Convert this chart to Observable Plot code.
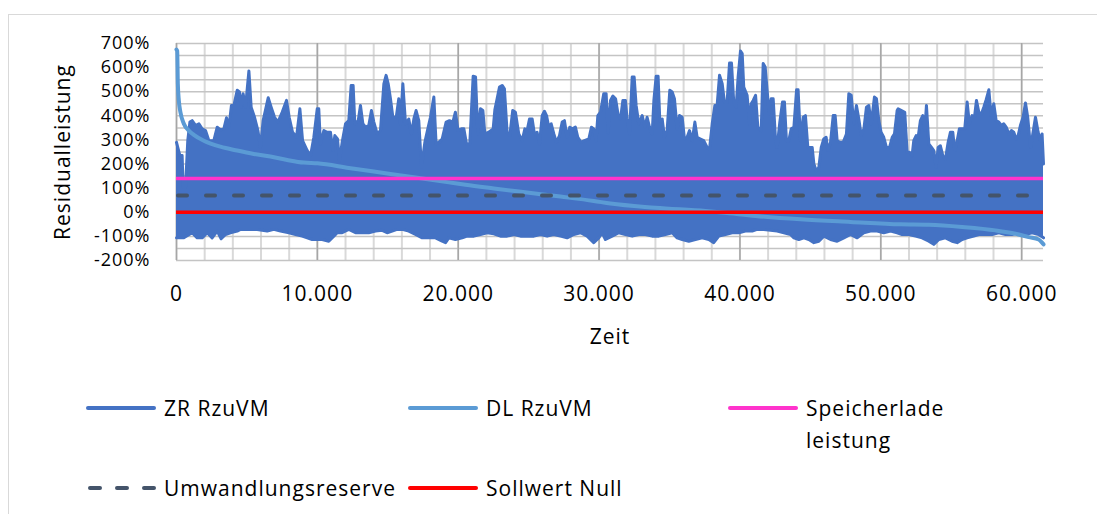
<!DOCTYPE html>
<html><head><meta charset="utf-8">
<script src="https://cdn.jsdelivr.net/npm/d3@7"></script>
<script src="https://cdn.jsdelivr.net/npm/@observablehq/plot@0.6"></script>
<style>
body{margin:0;background:#fff;width:1097px;height:514px;overflow:hidden;position:relative;font-family:"Open Sans",sans-serif;}
#frame{position:absolute;left:8px;top:14px;width:1200px;height:600px;border:1px solid #d9d9d9;box-sizing:border-box;}
#chart{position:absolute;left:0;top:0;}
.lt{position:absolute;font-size:21px;letter-spacing:1px;color:#000;line-height:32px;white-space:nowrap;}
.sw{position:absolute;width:70px;height:8px;overflow:visible;}
</style></head><body>
<div id="frame"></div>
<div id="chart"></div>
<div id="legend"></div>
<script>
// ---- data ----
const xTicks = [0, 10000, 20000, 30000, 40000, 50000, 60000];
const yTicks = [-200, -100, 0, 100, 200, 300, 400, 500, 600, 700];
const xMax = 61550;

// ZR RzuVM: upper envelope (time, %)
const zrHighT = [0,240,400,470,640,800,950,1110,1350,1590,1820,2060,2300,2650,2890,3120,3360,3550,3720,3900,4070,4310,4470,4590,4730,4900,5140,5300,5540,5780,5960,6150,6510,6720,6960,7200,7500,7810,8000,8240,8520,8760,8950,9280,9520,9750,9990,
10100,10220,10460,10700,10930,11100,11240,11430,11570,11760,12000,12230,12400,12540,12660,12900,13060,13230,13420,13650,13840,14010,14250,14480,14720,14880,15030,15190,15360,15600,15780,15900,16070,16260,16490,16680,16850,17010,17200,17390,17630,17870,18030,18270,18430,18620,18860,19140,19380,19620,19800,19990,20230,
20400,20590,20820,21060,21230,21390,21580,21750,21890,22170,22480,22600,22760,22930,23120,23280,23470,23660,23870,24060,24300,24540,24730,24890,25060,25250,25410,25600,25770,25960,26120,26270,26430,26600,26790,26970,27190,27380,27540,27730,27920,28110,28320,28490,28720,28960,29270,29460,29620,29790,29910,30100,30330,30500,
30640,30810,30980,31170,31360,31520,31690,31870,31990,32160,32350,32490,32630,32820,33060,33250,33410,33580,33770,33890,34050,34190,34310,34480,34640,34830,35020,35190,35350,35540,35710,35900,36060,36250,36420,36610,36800,36960,37200,37430,37670,37840,38030,38220,38380,38550,38740,38900,39090,39260,39400,39560,39730,39870,40040,40160,40270,40510,40680,
40800,40940,41110,41270,41510,41650,41790,41930,42070,42220,42360,42530,42640,42830,43020,43160,43300,43470,43640,43830,44020,44130,44300,44490,44650,44820,45010,45130,45250,45410,45600,45770,45950,46120,46240,46430,46620,46760,46900,47090,47330,47560,47730,47900,48080,48270,48440,48610,48800,48980,49150,49320,49550,49690,49860,50020,50210,50400,50620,50810,50970,51160,
51230,51470,51700,51870,52030,52220,52340,52510,52650,52810,52980,53120,53240,53410,53600,53760,53930,54070,54230,54400,54590,54780,54940,55110,55250,55420,55580,55770,55960,56130,56290,56480,56650,56790,56960,57140,57310,57480,57670,57830,58020,58190,58380,58560,58730,58900,59090,59270,59440,59610,59750,59910,60100,60270,60430,60630,60790,60980,61170,61330,61450,61550];
const zrHighV = [290,235,235,103,103,297,374,380,360,367,346,339,297,297,353,342,346,392,353,443,443,506,499,436,492,436,586,436,394,339,269,380,475,436,394,374,415,464,394,332,311,429,297,256,235,311,429,
429,283,339,332,332,256,318,304,214,290,367,380,526,526,367,380,443,367,353,360,422,374,325,339,533,568,533,471,394,394,471,367,533,367,387,325,387,422,380,186,290,353,394,478,283,290,304,374,380,374,415,339,346,
346,283,283,564,561,325,429,422,325,332,346,425,471,519,526,512,332,318,422,415,325,297,346,339,387,387,325,332,283,401,419,401,353,367,325,290,318,374,380,311,353,346,353,311,290,297,304,353,346,297,401,415,492,492,
330,464,482,471,401,387,464,464,387,325,561,561,443,367,401,353,394,353,325,464,564,564,380,387,311,339,506,499,471,346,401,394,304,311,339,297,374,311,304,297,269,262,367,443,443,568,533,457,457,619,619,457,436,561,669,658,519,485,367,
450,464,485,353,339,617,603,506,408,471,471,297,269,374,457,457,297,297,346,353,508,508,297,394,401,269,269,269,200,172,186,269,304,311,256,290,401,401,297,290,290,325,492,485,367,443,387,318,346,436,443,367,478,471,380,332,311,269,269,311,325,422,
429,422,415,249,249,235,297,318,311,380,401,339,443,283,269,256,186,269,276,235,221,290,332,332,256,297,346,346,346,457,367,401,394,464,415,408,436,467,508,401,450,380,374,360,367,353,325,339,332,304,318,360,394,453,394,269,325,394,332,297,325,200];

// ZR RzuVM: lower envelope (time, %)
const zrLowT = [0,520,1110,1470,1820,2180,2530,2890,3170,3480,3830,4310,4540,5020,5730,6440,6910,7380,7980,8450,8920,9280,9630,9990,10340,10810,11170,11410,11760,12230,12710,13180,13650,14130,14600,14950,15310,15660,16020,16490,16970,17440,17910,18390,18860,19100,19330,19800,20280,20630,21110,21580,22050,22530,23000,23470,23950,24420,24890,25370,25840,26310,26780,27260,27730,28200,28680,29150,29620,29980,30220,30450,30930,31400,31870,32350,32820,33290,33770,34240,34710,35190,35540,35900,36370,36840,37320,37790,38140,38500,38970,39450,39920,40390,40870,41220,41700,42170,42640,43120,43590,43830,44180,44540,44890,45250,45600,45960,46430,46900,47380,47850,48320,48790,49270,49740,50210,50690,51160,51510,51990,52460,52930,53410,53760,54120,54590,55060,55420,55770,56130,56600,56960,57430,57900,58370,58850,59320,59790,60270,60740,61210,61550];
const zrLowV = [-106,-106,-85,-106,-106,-85,-106,-78,-110,-92,-85,-78,-71,-71,-71,-78,-71,-78,-85,-92,-99,-106,-113,-113,-113,-120,-99,-85,-85,-71,-85,-85,-85,-78,-75,-85,-78,-71,-71,-78,-92,-106,-106,-106,-120,-126,-106,-113,-106,-99,-99,-92,-85,-89,-99,-99,-92,-99,-99,-99,-92,-99,-92,-99,-106,-92,-85,-99,-126,-106,-85,-113,-99,-85,-92,-99,-92,-92,-99,-99,-92,-85,-106,-113,-120,-113,-106,-113,-126,-99,-92,-85,-85,-78,-78,-71,-71,-75,-78,-85,-92,-106,-113,-106,-113,-126,-120,-99,-113,-120,-106,-92,-106,-85,-78,-78,-85,-78,-85,-92,-92,-99,-106,-120,-133,-113,-106,-120,-126,-113,-106,-99,-92,-92,-92,-85,-92,-92,-85,-92,-85,-92,-106];

// DL RzuVM: duration curve (time, %)
const dlT = [0,50,95,165,280,520,875,1230,1940,3120,4310,5490,6670,7860,9040,10000,12230,14600,16970,19330,20520,22530,24890,27260,29620,30810,34000,37550,38740,41100,44300,47850,51400,53410,55770,58140,59560,60500,61210,61450,61550];
const dlV = [675,669,533,464,415,367,339,321,297,272,256,242,231,217,206,203,184,164,144,124,114,99,82,65,47,36,19,5,-1,-15,-29,-40,-50,-52,-61,-75,-89,-103,-113,-126,-133];

const speicherLevel = 140;   // Speicherladeleistung
const reserveLevel = 70;     // Umwandlungsreserve
const sollLevel = 0;         // Sollwert Null

const legendLabels = ["ZR RzuVM", "DL RzuVM", "Speicherlade<br>leistung", "Umwandlungsreserve", "Sollwert Null"];
const legendColors = ["#4472C4", "#5B9BD5", "#FF33CC", "#44546A", "#FF0000"];
const legendDashed = [false, false, false, true, false];

// ---- build ----
const hi = zrHighT.map((t, i) => ({t, v: zrHighV[i]}));
const lo = zrLowT.map((t, i) => ({t, v: zrLowV[i]}));
const dl = dlT.map((t, i) => ({t, v: dlV[i]}));
const fmtDE = d3.formatLocale({decimal: ",", thousands: ".", grouping: [3], currency: ["", "€"]}).format(",d");
const zrColor = legendColors[0];

const chart = Plot.plot({
  width: 1097, height: 370,
  marginLeft: 176, marginRight: 54, marginTop: 43, marginBottom: 110,
  style: {fontFamily: "'Open Sans', sans-serif", fontSize: "21px", letterSpacing: "1px", color: "#000", background: "transparent", overflow: "visible"},
  x: {domain: [0, xMax]},
  y: {domain: [-200, 700]},
  marks: [
    Plot.gridX(d3.range(0, xMax, 2000), {stroke: "#d9d9d9", strokeOpacity: 1, strokeWidth: 2}),
    Plot.gridY(d3.range(-200, 701, 50), {stroke: "#c4c4c4", strokeOpacity: 1, strokeWidth: 1.5}),
    Plot.gridX(xTicks, {stroke: "#a6a6a6", strokeOpacity: 1, strokeWidth: 1.5}),
    Plot.axisY(yTicks, {tickSize: 0, tickPadding: 26, tickFormat: d => d + "%", label: null, fontSize: 18, style: {letterSpacing: "2px"}}),
    Plot.axisX(xTicks, {tickSize: 0, tickPadding: 26, tickFormat: fmtDE, label: null}),
    Plot.text(["Residualleistung"], {frameAnchor: "left", dx: -113, rotate: -90, textAnchor: "middle", text: d => d, fontSize: 21}),
    Plot.text(["Zeit"], {frameAnchor: "bottom", dy: 83, text: d => d, fontSize: 21}),
    Plot.areaY(hi, {x: "t", y1: 0, y2: "v", fill: zrColor}),
    Plot.areaY(lo, {x: "t", y1: "v", y2: 0, fill: zrColor}),
    Plot.lineY(hi, {x: "t", y: "v", stroke: zrColor, strokeWidth: 3, strokeLinejoin: "round", strokeLinecap: "round"}),
    Plot.lineY(lo, {x: "t", y: "v", stroke: zrColor, strokeWidth: 3, strokeLinejoin: "round", strokeLinecap: "round"}),
    Plot.line(dl, {x: "t", y: "v", stroke: legendColors[1], strokeWidth: 4, curve: "monotone-x", strokeLinecap: "round"}),
    Plot.ruleY([speicherLevel], {stroke: legendColors[2], strokeWidth: 3.5}),
    Plot.ruleY([reserveLevel], {stroke: legendColors[3], strokeWidth: 4, strokeDasharray: "9,19", strokeLinecap: "round", dx: 2}),
    Plot.ruleY([sollLevel], {stroke: legendColors[4], strokeWidth: 3.5})
  ]
});
document.getElementById("chart").appendChild(chart);

// legend
const legPos = [[88, 408], [410, 408], [730, 408], [88, 488], [410, 488]];
const leg = document.getElementById("legend");
const svgNS = "http://www.w3.org/2000/svg";
legendLabels.forEach((lab, i) => {
  const [x, y] = legPos[i];
  const sw = document.createElementNS(svgNS, "svg");
  sw.setAttribute("class", "sw");
  sw.style.left = (x - 2) + "px";
  sw.style.top = (y - 4) + "px";
  const ln = document.createElementNS(svgNS, "line");
  ln.setAttribute("x1", legendDashed[i] ? 4 : 2);
  ln.setAttribute("x2", 68);
  ln.setAttribute("y1", 4);
  ln.setAttribute("y2", 4);
  ln.setAttribute("stroke", legendColors[i]);
  ln.setAttribute("stroke-width", 4);
  ln.setAttribute("stroke-linecap", "round");
  if (legendDashed[i]) ln.setAttribute("stroke-dasharray", "10,17");
  sw.appendChild(ln);
  leg.appendChild(sw);
  const t = document.createElement("div");
  t.className = "lt";
  t.style.left = (x + 76) + "px";
  t.style.top = (y - 16) + "px";
  t.innerHTML = lab;
  leg.appendChild(t);
});
</script>
</body></html>
